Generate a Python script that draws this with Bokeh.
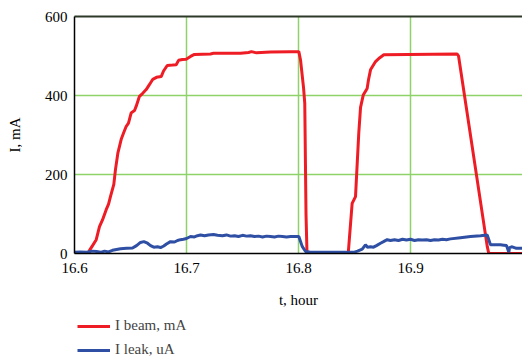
from bokeh.plotting import figure
from bokeh.layouts import column
from bokeh.models import Range1d, FixedTicker, LinearAxis, Legend, LegendItem
from bokeh.embed import file_html
from bokeh.resources import INLINE

# I beam, mA
t_beam = [16.6, 16.6125, 16.6134, 16.6161, 16.6194, 16.6223, 16.6250, 16.6283, 16.6304, 16.6321,
          16.6351, 16.6366, 16.6387, 16.6417, 16.6438, 16.6462, 16.6482, 16.6506, 16.6536, 16.6551,
          16.6580, 16.6607, 16.6640, 16.6670, 16.6699, 16.6732, 16.6774, 16.6795, 16.6828, 16.6875,
          16.6908, 16.6929, 16.6964, 16.6997, 16.7036, 16.7071, 16.7214, 16.7241, 16.7482, 16.7554,
          16.7580, 16.7625, 16.7750, 16.7929, 16.8003, 16.8018, 16.8045, 16.8056, 16.8067, 16.8076,
          16.8444, 16.8455, 16.8479, 16.8509, 16.8538, 16.8554, 16.8578, 16.8613, 16.8625, 16.8643,
          16.8688, 16.8723, 16.8762, 16.9417, 16.9429, 16.9685, 16.9699, 17.0]
i_beam = [0, 0, 8, 20, 35, 68, 85, 111, 125, 144,
          175, 213, 254, 289, 305, 322, 330, 356, 362, 373,
          398, 405, 415, 428, 441, 446, 448, 462, 476, 477,
          478, 489, 491, 492, 499, 504, 505, 507, 507, 509,
          511, 508, 510, 511, 511, 490, 420, 380, 100, 0,
          0, 40, 127, 144, 304, 370, 401, 418, 440, 465,
          486, 495, 503, 505, 500, 18, 0, 0]

# I leak, uA
t_leak = [16.6000, 16.6054, 16.6107, 16.6161, 16.6196, 16.6232, 16.6268, 16.6304, 16.6339, 16.6375,
          16.6411, 16.6464, 16.6518, 16.6554, 16.6589, 16.6619, 16.6652, 16.6679, 16.6708, 16.6741,
          16.6768, 16.6797, 16.6821, 16.6857, 16.6893, 16.6920, 16.6946, 16.6973, 16.7000, 16.7036,
          16.7071, 16.7098, 16.7125, 16.7161, 16.7196, 16.7241, 16.7277, 16.7321, 16.7357, 16.7393,
          16.7429, 16.7464, 16.7500, 16.7536, 16.7571, 16.7607, 16.7643, 16.7679, 16.7714, 16.7750,
          16.7786, 16.7821, 16.7857, 16.7893, 16.7929, 16.7964, 16.8003, 16.8033, 16.8063, 16.8107,
          16.8286, 16.8491, 16.8527, 16.8569, 16.8598, 16.8616, 16.8643, 16.8670, 16.8696, 16.8732,
          16.8759, 16.8792, 16.8821, 16.8857, 16.8893, 16.8929, 16.8964, 16.9000, 16.9036, 16.9071,
          16.9107, 16.9143, 16.9179, 16.9214, 16.9250, 16.9286, 16.9321, 16.9357, 16.9446, 16.9536,
          16.9625, 16.9685, 16.9714, 16.9759, 16.9804, 16.9833, 16.9857, 16.9878, 16.9884, 16.9908,
          16.9946, 17.0]
i_leak = [3, 4, 3, 6, 5, 3, 6, 4, 8, 10,
          12, 13, 14, 20, 28, 30, 26, 20, 16, 17,
          15, 19, 24, 30, 29, 33, 35, 36, 38, 43,
          42, 45, 47, 45, 47, 48, 46, 45, 47, 44,
          45, 43, 46, 44, 45, 43, 44, 42, 44, 43,
          42, 44, 43, 42, 43, 43, 43, 18, 5, 3,
          3, 3, 6, 11, 22, 16, 17, 16, 20, 26,
          30, 35, 33, 35, 33, 36, 34, 36, 33, 35,
          34, 35, 33, 35, 34, 36, 35, 37, 40, 43,
          45, 47, 22, 22, 22, 21, 20, 3, 15, 17,
          13, 13]

x_ticks = [16.6, 16.7, 16.8, 16.9]
y_ticks = [0, 200, 400, 600]
series_labels = ["I beam, mA", "I leak, uA"]

FONT = "Liberation Serif"
GRID = "#8ed36a"
RED = "#ee1c24"
BLUE = "#2e4fa3"

p = figure(width=522, height=310, output_backend="svg", toolbar_location=None,
           x_range=Range1d(16.6, 17.0), y_range=Range1d(0, 600),
           min_border_left=74, min_border_top=16, min_border_right=0, min_border_bottom=57,
           x_axis_label="t, hour", y_axis_label="I, mA")
p.outline_line_color = None
p.background_fill_color = "white"
p.border_fill_color = "white"

for ax in (p.xaxis[0], p.yaxis[0]):
    ax.axis_line_color = "black"
    ax.axis_line_width = 1.5
    ax.major_tick_line_color = None
    ax.minor_tick_line_color = None
    ax.major_label_text_font = FONT
    ax.major_label_text_font_size = "15px"
    ax.major_label_text_font_style = "normal"
    ax.major_label_text_color = "black"
    ax.axis_label_text_font = FONT
    ax.axis_label_text_font_size = "15px"
    ax.axis_label_text_font_style = "normal"
    ax.axis_label_text_color = "black"

p.xaxis[0].ticker = FixedTicker(ticks=x_ticks)
p.yaxis[0].ticker = FixedTicker(ticks=y_ticks)
p.xaxis[0].major_label_standoff = 3
p.xaxis[0].axis_label_standoff = 16
p.yaxis[0].major_label_standoff = 1
p.yaxis[0].axis_label_standoff = 19

p.xgrid[0].ticker = FixedTicker(ticks=[16.7, 16.8, 16.9])
p.ygrid[0].ticker = FixedTicker(ticks=[200, 400])
p.xgrid[0].grid_line_color = GRID
p.ygrid[0].grid_line_color = GRID
p.xgrid[0].grid_line_width = 1.5
p.ygrid[0].grid_line_width = 1.5

top = LinearAxis(ticker=FixedTicker(ticks=[]), axis_line_color="#2e3a28", axis_line_width=2,
                 major_tick_line_color=None, minor_tick_line_color=None,
                 major_label_text_font_size="0px")
p.add_layout(top, "above")

p.line(t_beam, i_beam, line_color=RED, line_width=3)
p.line(t_leak, i_leak, line_color=BLUE, line_width=3)

# legend panel below the chart (same series, drawn outside this panel's visible range)
q = figure(width=522, height=49, output_backend="svg", toolbar_location=None,
           x_axis_type=None, y_axis_type=None,
           x_range=Range1d(0, 1), y_range=Range1d(0, 1),
           min_border_left=74, min_border_top=0, min_border_right=0, min_border_bottom=0)
q.outline_line_color = None
q.grid.visible = False
q.background_fill_color = "white"
q.border_fill_color = "white"
l1 = q.line(t_beam, i_beam, line_color=RED, line_width=3)
l2 = q.line(t_leak, i_leak, line_color=BLUE, line_width=3)
legend = Legend(items=[LegendItem(label=series_labels[0], renderers=[l1]),
                       LegendItem(label=series_labels[1], renderers=[l2])],
                location=(3, 1), orientation="vertical",
                label_text_font=FONT, label_text_font_size="15px",
                glyph_width=33, glyph_height=16, spacing=7, padding=0, margin=0,
                label_standoff=5, border_line_color=None, background_fill_alpha=0)
q.add_layout(legend, "center")

open("out.html", "w").write(file_html(column(p, q, spacing=0), INLINE))
